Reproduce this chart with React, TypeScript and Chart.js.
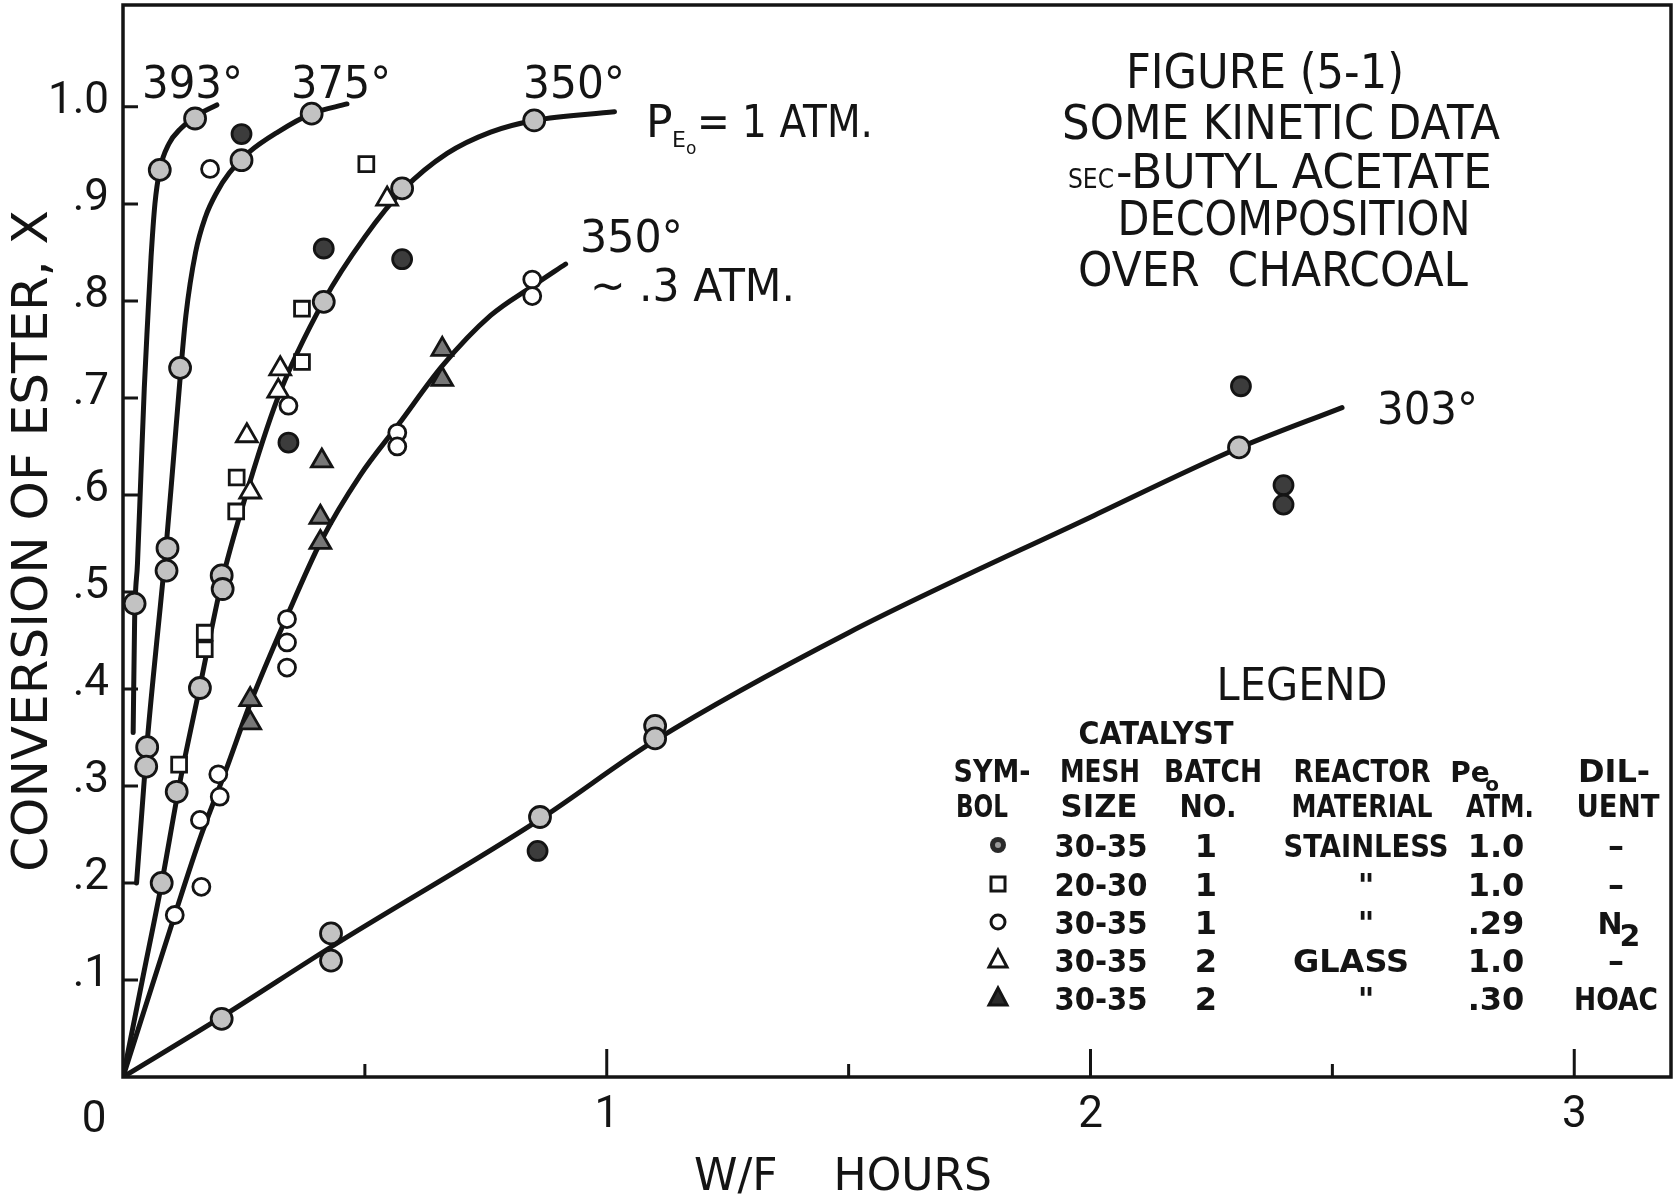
import { useEffect, useRef } from 'react';
import { Chart, registerables } from 'chart.js';

Chart.register(...registerables);

type Pt = [number, number];

// ---------- curves (W/F hours, conversion X) ----------
const curve393: Pt[] = [[0.021, 0.355], [0.024, 0.47], [0.03, 0.53], [0.037, 0.62], [0.044, 0.71], [0.051, 0.78], [0.058, 0.845], [0.066, 0.9], [0.076, 0.935], [0.095, 0.962], [0.12, 0.978], [0.149, 0.99], [0.194, 1.002]];
const curve375: Pt[] = [[0.028, 0.2], [0.04, 0.28], [0.05, 0.345], [0.07, 0.45], [0.088, 0.54], [0.104, 0.635], [0.118, 0.72], [0.13, 0.785], [0.15, 0.85], [0.17, 0.886], [0.194, 0.912], [0.22, 0.932], [0.26, 0.953], [0.32, 0.974], [0.39, 0.993], [0.463, 1.003]];
const curve350Full: Pt[] = [[0, 0], [0.04, 0.1], [0.08, 0.2], [0.115, 0.297], [0.16, 0.405], [0.204, 0.51], [0.25, 0.593], [0.32, 0.7], [0.415, 0.8], [0.5, 0.866], [0.58, 0.915], [0.67, 0.952], [0.76, 0.974], [0.85, 0.986], [1.016, 0.995]];
const curve350Low: Pt[] = [[0, 0], [0.107, 0.167], [0.16, 0.247], [0.211, 0.314], [0.263, 0.385], [0.339, 0.475], [0.41, 0.553], [0.49, 0.62], [0.57, 0.673], [0.66, 0.733], [0.76, 0.785], [0.846, 0.815], [0.915, 0.838]];
const curve303: Pt[] = [[0, 0], [0.204, 0.062], [0.43, 0.134], [0.86, 0.265], [1.1, 0.347], [1.5, 0.458], [2.0, 0.577], [2.3, 0.647], [2.52, 0.69]];

// ---------- data points ----------
// stainless, 30-35 mesh, 1.0 atm (solid circle) — points lying on the curves
const stainlessOnCurve: Pt[] = [[0.024, 0.488], [0.076, 0.935], [0.149, 0.988], [0.05, 0.34], [0.048, 0.32], [0.092, 0.545], [0.09, 0.522], [0.118, 0.731], [0.245, 0.945], [0.39, 0.993], [0.08, 0.2], [0.111, 0.294], [0.159, 0.401], [0.204, 0.517], [0.206, 0.503], [0.415, 0.799], [0.577, 0.916], [0.85, 0.986], [0.204, 0.06], [0.43, 0.148], [0.43, 0.12], [0.862, 0.268], [1.1, 0.362], [1.1, 0.349], [2.307, 0.649]];
// stainless, solid circles away from the curves
const stainlessOffCurve: Pt[] = [[0.245, 0.972], [0.415, 0.854], [0.577, 0.843], [0.342, 0.654], [0.857, 0.233], [2.311, 0.712], [2.399, 0.61], [2.399, 0.59]];
// 20-30 mesh, stainless, 1.0 atm (open square)
const squares2030: Pt[] = [[0.116, 0.322], [0.169, 0.458], [0.169, 0.441], [0.234, 0.583], [0.235, 0.618], [0.37, 0.737], [0.37, 0.792], [0.503, 0.941]];
// 30-35 mesh, stainless, .29 atm, N2 (open circle)
const circlesN2: Pt[] = [[0.107, 0.167], [0.162, 0.196], [0.159, 0.265], [0.197, 0.312], [0.2, 0.289], [0.339, 0.472], [0.339, 0.448], [0.339, 0.422], [0.567, 0.664], [0.567, 0.65], [0.846, 0.822], [0.846, 0.805], [0.342, 0.692], [0.18, 0.936]];
// glass, 1.0 atm (open triangle)
const trianglesGlass: Pt[] = [[0.256, 0.661], [0.263, 0.603], [0.321, 0.707], [0.325, 0.73], [0.546, 0.905]];
// glass, .30 atm, HOAc (solid triangle)
const trianglesHOAc: Pt[] = [[0.411, 0.635], [0.408, 0.577], [0.408, 0.551], [0.263, 0.389], [0.263, 0.365], [0.66, 0.75], [0.66, 0.719]];

// ---------- ticks ----------
const xTickValues = [1, 2, 3];
const xTickLabels = ['1', '2', '3'];
const xOriginLabel = '0';
const xTickMarks = [0.5, 1, 1.5, 2, 2.5, 3];
const yTickValues = [0.1, 0.2, 0.3, 0.4, 0.5, 0.6, 0.7, 0.8, 0.9, 1.0];
const yTickLabels = ['.1', '.2', '.3', '.4', '.5', '.6', '.7', '.8', '.9', '1.0'];

// ---------- texts ----------
const yTitle = 'CONVERSION OF ESTER, X';
const xTitle = 'W/F    HOURS';
const titleLines = ['FIGURE (5-1)', 'SOME KINETIC DATA', 'SEC', '-BUTYL ACETATE', 'DECOMPOSITION', 'OVER  CHARCOAL'];
const curveTags = ['393°', '375°', '350°', '350°', '303°'];
const legendMesh = ['30-35', '20-30', '30-35', '30-35', '30-35'];
const legendBatch = ['1', '1', '1', '2', '2'];
const legendMaterial = ['STAINLESS', '"', '"', 'GLASS', '"'];
const legendPressure = ['1.0', '1.0', '.29', '1.0', '.30'];
const legendDiluent = ['–', '–', 'N', '–', 'HOAC'];
const legendSymbols = ['dot', 'square', 'circle', 'triangle', 'solidTriangle'];

const INK = '#141414';
const SANS = '"DejaVu Sans", "Liberation Sans", sans-serif';
const TICKFONT = 'Roboto, "DejaVu Sans", sans-serif';

const toXY = (a: Pt[]) => a.map(([x, y]) => ({ x, y }));

function put(ctx: CanvasRenderingContext2D, s: string, x: number, y: number, size: number, align: CanvasTextAlign = 'left', weight = 'normal', maxW?: number, family = SANS) {
  ctx.font = `${weight} ${size}px ${family}`;
  ctx.textAlign = align;
  ctx.textBaseline = 'alphabetic';
  ctx.fillStyle = INK;
  if (maxW) ctx.fillText(s, x, y, maxW);
  else ctx.fillText(s, x, y);
}

function drawSymbol(ctx: CanvasRenderingContext2D, kind: string, x: number, y: number) {
  ctx.save();
  ctx.strokeStyle = INK;
  ctx.lineWidth = 3;
  ctx.beginPath();
  if (kind === 'dot') {
    ctx.arc(x, y, 8, 0, Math.PI * 2);
    ctx.fillStyle = '#2a2a2a';
    ctx.fill();
    ctx.beginPath();
    ctx.arc(x, y, 3, 0, Math.PI * 2);
    ctx.fillStyle = '#9a9a9a';
    ctx.fill();
  } else if (kind === 'square') {
    ctx.strokeRect(x - 7, y - 7, 14, 14);
  } else if (kind === 'circle') {
    ctx.arc(x, y, 7, 0, Math.PI * 2);
    ctx.stroke();
  } else {
    ctx.moveTo(x, y - 10);
    ctx.lineTo(x + 9, y + 7);
    ctx.lineTo(x - 9, y + 7);
    ctx.closePath();
    if (kind === 'solidTriangle') {
      ctx.fillStyle = '#2a2a2a';
      ctx.fill();
    }
    ctx.stroke();
  }
  ctx.restore();
}

const decor = {
  id: 'decor',
  afterDraw(chart: any) {
    const { ctx, chartArea: a, scales } = chart;
    const xs = scales.x;
    const ys = scales.y;
    ctx.save();
    // frame
    ctx.strokeStyle = INK;
    ctx.lineWidth = 3.5;
    ctx.strokeRect(a.left, a.top, a.right - a.left, a.bottom - a.top);
    // inward tick marks
    ctx.lineWidth = 3;
    ctx.beginPath();
    yTickValues.forEach((v) => {
      const py = ys.getPixelForValue(v);
      ctx.moveTo(a.left, py);
      ctx.lineTo(a.left + 15, py);
    });
    xTickMarks.forEach((v) => {
      const px = xs.getPixelForValue(v);
      const len = Number.isInteger(v) ? 28 : 13;
      ctx.moveTo(px, a.bottom);
      ctx.lineTo(px, a.bottom - len);
    });
    ctx.stroke();

    // origin label and x title
    put(ctx, xOriginLabel, xs.getPixelForValue(0) - 29, 1132, 44, 'center', 'normal', undefined, TICKFONT);
    put(ctx, xTitle, 694, 1190, 44, 'left', 'normal', 304);

    // curve tags
    put(ctx, curveTags[0], 142, 98, 44, 'left', 'normal', 101);
    put(ctx, curveTags[1], 291, 98, 44, 'left', 'normal', 100);
    put(ctx, curveTags[2], 523, 98, 44, 'left', 'normal', 102);
    put(ctx, curveTags[3], 580, 252, 44, 'left', 'normal', 103);
    put(ctx, curveTags[4], 1377, 424, 44, 'left', 'normal', 101);
    // pressure notes
    put(ctx, 'P', 646, 137, 44);
    put(ctx, 'E', 672, 147, 22);
    put(ctx, 'o', 686, 154, 17);
    put(ctx, '= 1 ATM.', 697, 137, 44, 'left', 'normal', 176);
    put(ctx, '~ .3 ATM.', 590, 301, 44, 'left', 'normal', 205);

    // title block
    put(ctx, titleLines[0], 1265, 88, 48, 'center', 'normal', 278);
    put(ctx, titleLines[1], 1281, 139, 48, 'center', 'normal', 438);
    put(ctx, titleLines[2], 1068, 188, 27, 'left', 'normal', 46);
    put(ctx, titleLines[3], 1116, 188, 48, 'left', 'normal', 376);
    put(ctx, titleLines[4], 1294, 235, 48, 'center', 'normal', 353);
    put(ctx, titleLines[5], 1273, 286, 48, 'center', 'normal', 390);

    // legend table
    put(ctx, 'LEGEND', 1302, 700, 44, 'center', 'normal', 171);
    put(ctx, 'CATALYST', 1156, 744, 32, 'center', 'bold', 155);
    const h1 = 782;
    const h2 = 817;
    put(ctx, 'SYM-', 992, h1, 32, 'center', 'bold', 77);
    put(ctx, 'MESH', 1100, h1, 32, 'center', 'bold', 80);
    put(ctx, 'BATCH', 1213, h1, 32, 'center', 'bold', 98);
    put(ctx, 'REACTOR', 1362, h1, 32, 'center', 'bold', 137);
    put(ctx, 'Pe', 1470, h1, 28, 'center', 'bold', 40);
    put(ctx, 'o', 1492, h1 + 9, 20, 'center', 'bold');
    put(ctx, 'DIL-', 1614, h1, 32, 'center', 'bold', 78);
    put(ctx, 'BOL', 982, h2, 32, 'center', 'bold', 52);
    put(ctx, 'SIZE', 1099, h2, 32, 'center', 'bold', 77);
    put(ctx, 'NO.', 1208, h2, 32, 'center', 'bold', 57);
    put(ctx, 'MATERIAL', 1362, h2, 32, 'center', 'bold', 141);
    put(ctx, 'ATM.', 1500, h2, 32, 'center', 'bold', 68);
    put(ctx, 'UENT', 1618, h2, 32, 'center', 'bold', 83);
    const rows = [857, 896, 934, 972, 1010];
    rows.forEach((by, i) => {
      drawSymbol(ctx, legendSymbols[i], 998, by - 12);
      put(ctx, legendMesh[i], 1101, by, 32, 'center', 'bold', 93);
      put(ctx, legendBatch[i], 1206, by, 32, 'center', 'bold');
      put(ctx, legendMaterial[i], legendMaterial[i] === 'GLASS' ? 1351 : 1366, by, 32, 'center', 'bold', 165);
      put(ctx, legendPressure[i], 1496, by, 32, 'center', 'bold', 58);
      if (legendDiluent[i] === 'N') {
        put(ctx, 'N', 1610, by, 30, 'center', 'bold');
        put(ctx, '2', 1630, by + 12, 30, 'center', 'bold');
      } else {
        put(ctx, legendDiluent[i], 1616, by, 32, 'center', 'bold', 84);
      }
    });
    ctx.restore();
  },
};

const zeroPad = (s: any) => {
  s.paddingTop = 0;
  s.paddingBottom = 0;
  s.paddingLeft = 0;
  s.paddingRight = 0;
};

export default function App() {
  const ref = useRef<HTMLCanvasElement>(null);
  useEffect(() => {
    const canvas = ref.current;
    if (!canvas) return;
    const curve = (label: string, pts: Pt[]) => ({
      label,
      data: toXY(pts),
      showLine: true,
      borderColor: INK,
      borderWidth: 5,
      borderCapStyle: 'round' as const,
      pointRadius: 0,
      fill: false,
      cubicInterpolationMode: 'monotone' as const,
      order: 2,
    });
    const marks = (label: string, pts: Pt[], style: string, r: number, bg: string) => ({
      label,
      data: toXY(pts),
      showLine: false,
      pointStyle: style,
      pointRadius: r,
      pointBackgroundColor: bg,
      pointBorderColor: INK,
      pointBorderWidth: 2.8,
      order: 1,
    });
    const chart = new Chart(canvas, {
      type: 'scatter',
      data: {
        datasets: [
          curve('393°', curve393),
          curve('375°', curve375),
          curve('350°, 1 atm', curve350Full),
          curve('350°, ~.3 atm', curve350Low),
          curve('303°', curve303),
          marks('Stainless 30-35, 1.0 atm', stainlessOnCurve, 'circle', 10.5, '#c2c2c2'),
          marks('Stainless 30-35, 1.0 atm (off curve)', stainlessOffCurve, 'circle', 9.5, '#3c3c3c'),
          marks('20-30 mesh, 1.0 atm', squares2030, 'rect', 10.5, '#ffffff'),
          marks('30-35 mesh, .29 atm, N2', circlesN2, 'circle', 8.5, '#ffffff'),
          marks('Glass, 1.0 atm', trianglesGlass, 'triangle', 12, '#ffffff'),
          marks('Glass, .30 atm, HOAc', trianglesHOAc, 'triangle', 12, '#777777'),
        ],
      } as any,
      options: {
        responsive: false,
        animation: false,
        devicePixelRatio: 1,
        layout: { autoPadding: false, padding: { left: 0, right: 3, top: 5, bottom: 0 } },
        plugins: { legend: { display: false }, tooltip: { enabled: false } },
        scales: {
          x: {
            type: 'linear',
            min: 0,
            max: 3.2,
            grid: { display: false, drawTicks: false },
            border: { display: false },
            afterFit: (s: any) => { s.height = 126; zeroPad(s); },
            afterBuildTicks: (s: any) => { s.ticks = xTickValues.map((value) => ({ value })); },
            ticks: {
              autoSkip: false,
              maxRotation: 0,
              padding: 13,
              color: INK,
              font: { family: TICKFONT, size: 44 },
              callback: (v: any) => { const i = xTickValues.indexOf(Number(v)); return i >= 0 ? xTickLabels[i] : ''; },
            },
          },
          y: {
            type: 'linear',
            min: 0,
            max: 1.105,
            grid: { display: false, drawTicks: false },
            border: { display: false },
            afterFit: (s: any) => { s.width = 123; zeroPad(s); },
            afterBuildTicks: (s: any) => { s.ticks = yTickValues.map((value) => ({ value })); },
            title: {
              display: true,
              text: yTitle,
              color: INK,
              font: { family: SANS, size: 50 },
              padding: { top: 4, bottom: 0 },
            },
            ticks: {
              autoSkip: false,
              padding: 14,
              labelOffset: -5,
              color: INK,
              font: { family: TICKFONT, size: 44 },
              callback: (v: any) => {
                const i = yTickValues.findIndex((t) => Math.abs(t - Number(v)) < 1e-9);
                return i >= 0 ? yTickLabels[i] : '';
              },
            },
          },
        },
      } as any,
      plugins: [decor],
    });
    return () => chart.destroy();
  }, []);
  return (
    <div style={{ position: 'fixed', left: 0, top: 0, width: 1674, height: 1203, background: '#fff' }}>
      <canvas ref={ref} width={1674} height={1203} style={{ display: 'block', width: 1674, height: 1203 }} />
    </div>
  );
}
